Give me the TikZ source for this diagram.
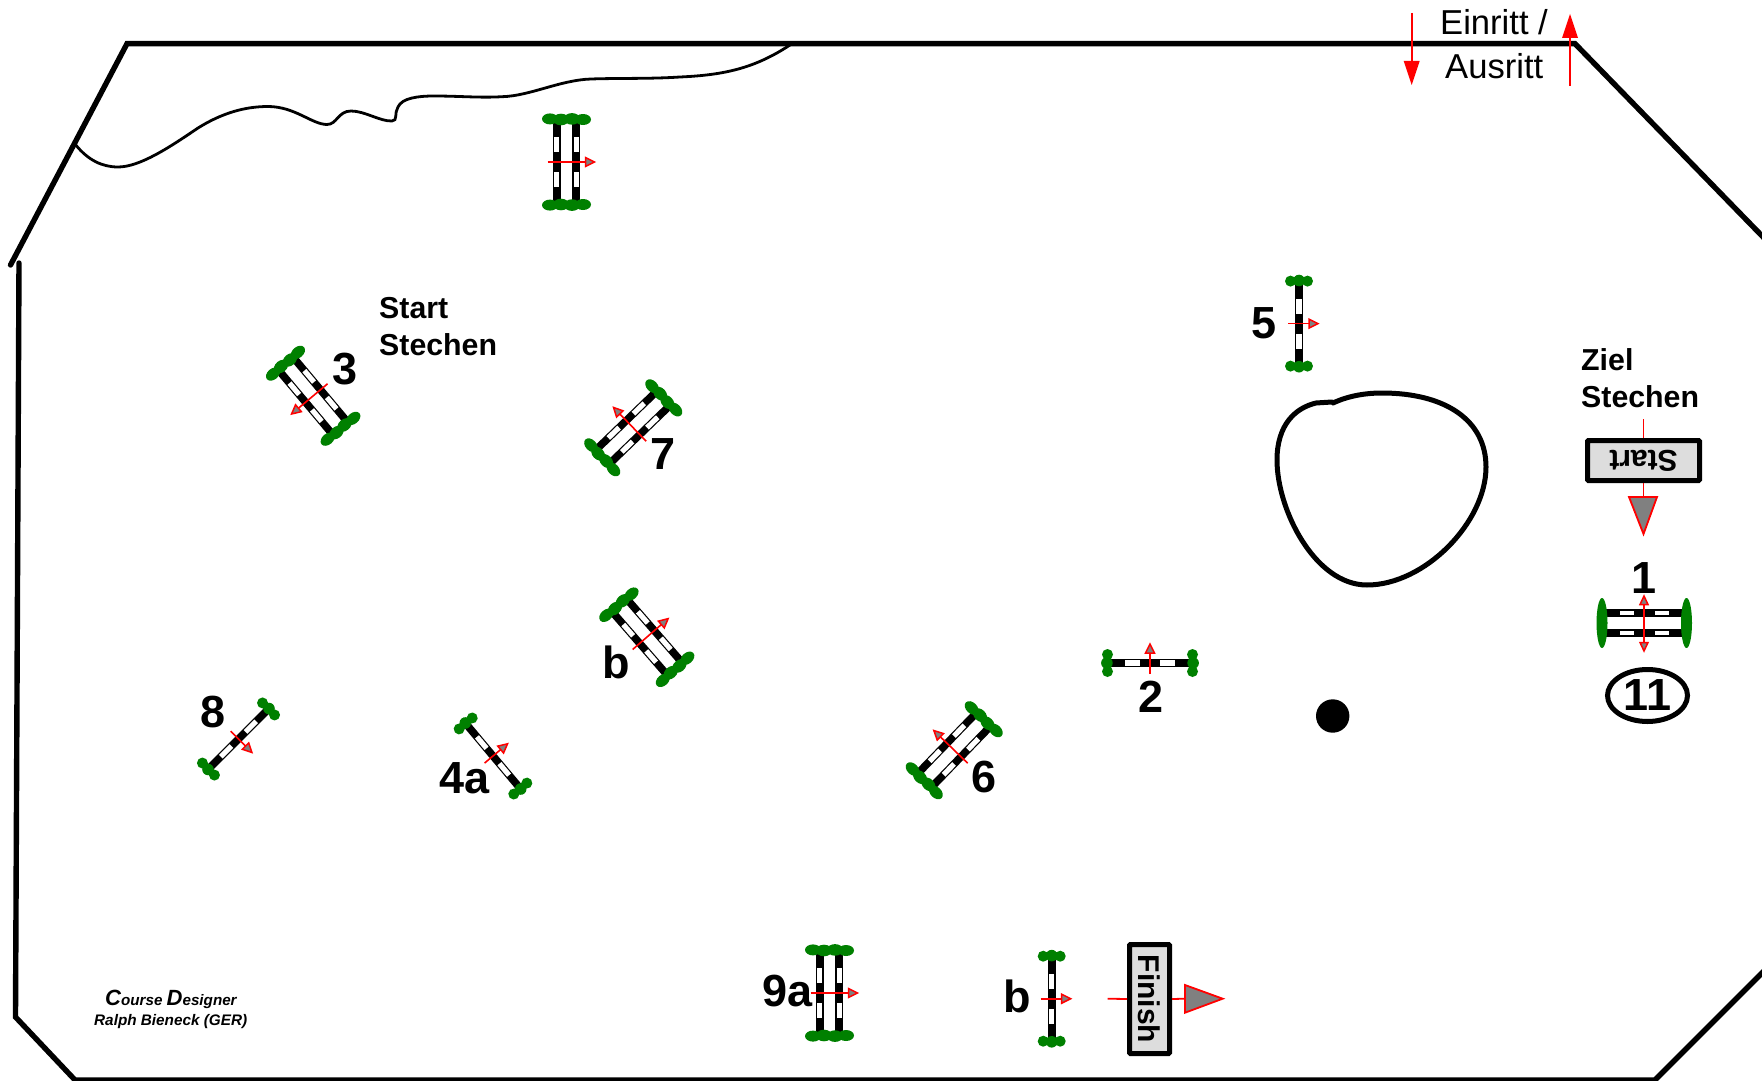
\documentclass[tikz,border=0pt]{standalone}
\usepackage{fontspec}
\usetikzlibrary{shapes.geometric}
\setmainfont{Liberation Sans}
\definecolor{wing}{HTML}{008000}
\definecolor{boxgray}{HTML}{DDDDDD}
\definecolor{headgray}{HTML}{808080}
\tikzset{
  outline/.style={line width=5.4pt,line join=miter,line cap=round},
  redline/.style={draw=red,line width=1.8pt},
  fencered/.style={draw=red,line width=1.6pt},
  smallhead/.style={draw=red,fill=headgray,line width=1.5pt,line join=miter},
  bighead/.style={draw=red,fill=headgray,line width=1.8pt,line join=miter},
  numlabel/.style={font=\bfseries\fontsize{45}{45}\selectfont,inner sep=0pt,anchor=center},
  notelabel/.style={font=\bfseries\fontsize{30.3}{37}\selectfont,inner sep=0pt,align=left,anchor=west},
  gatelabel/.style={font=\fontsize{34.6}{34.6}\selectfont,inner sep=0pt,anchor=base west},
  gatebox/.style={draw=black,fill=boxgray,line width=5pt,rounded corners=1pt,inner sep=0pt,
     font=\bfseries\fontsize{30}{30}\selectfont},
}
\newcommand\railbar[1]{%
  \fill[black] (-39,#1-3.8) rectangle (39,#1+3.8);
  \fill[white] (-25,#1-2.6) rectangle (-10,#1+2.6);
  \fill[white] (10,#1-2.6) rectangle (25,#1+2.6);}
\newcommand\singlejump[3]{%
  \begin{scope}[shift={(#1,#2)},rotate=#3]
    \railbar{0}
    \foreach \wx/\wz in {-42.5/-0.6,42.5/0.6}{
      \fill[wing] (\wx,-8.5) circle (5.5) (\wx+\wz,0) circle (5.8) (\wx,8.5) circle (5.5);}
    \draw[fencered] (0,11) -- (0,-11);
    \filldraw[smallhead] (0,-19) -- (-4.5,-10) -- (4.5,-10) -- cycle;
  \end{scope}}
\newcommand\oxerjump[3]{%
  \begin{scope}[shift={(#1,#2)},rotate=#3]
    \railbar{-9.7}
    \railbar{9.7}
    \foreach \wx/\wz in {-42.5/-0.6,42.5/0.6}{
      \fill[wing] (\wx,-16.5) ellipse (5.5 and 8) (\wx+\wz,-5.5) ellipse (5.8 and 8)
                  (\wx,5.5) ellipse (5.8 and 8) (\wx+\wz,16.5) ellipse (5.5 and 8);}
    \draw[fencered] (0,19) -- (0,-20);
    \filldraw[smallhead] (0,-28) -- (-4.5,-19) -- (4.5,-19) -- cycle;
  \end{scope}}
\begin{document}
\begin{tikzpicture}[x=1pt,y=-1pt]
\useasboundingbox (0,0) rectangle (1762,1081);
\clip (0,0) rectangle (1762,1081);

% arena
\draw[outline] (10.5,265) -- (127,43.7) -- (1575,43.7) -- (1765,239);
\draw[outline] (19,263) -- (15.5,1017) -- (75,1080) -- (1655,1080) -- (1765,970);
\draw[line width=2.8pt,line cap=round] (75.8,145)
 .. controls (88,160) and (102,167) .. (118,167)
 .. controls (140,167) and (170,147) .. (198,128)
 .. controls (222,113) and (245,106.5) .. (268,106.5)
 .. controls (295,106.5) and (312,124.5) .. (327,124.5)
 .. controls (337,124.5) and (338,111) .. (351,111)
 .. controls (365,111) and (380,121.5) .. (392,121)
 .. controls (398,121) and (394,113) .. (398,107)
 .. controls (402,98) and (418,96) .. (434,96)
 .. controls (460,96) and (480,98) .. (502,96.7)
 .. controls (530,96) and (560,80) .. (591,79)
 .. controls (620,78) and (650,79) .. (680,77)
 .. controls (725,75) and (755,68) .. (790,45);
% pond
\draw[line width=5pt,line cap=round] (1333,403)
 .. controls (1348,396) and (1365,393) .. (1382,393)
 .. controls (1445,393) and (1486,420) .. (1486,467)
 .. controls (1486,522) and (1425,585) .. (1367,585)
 .. controls (1315,585) and (1277,510) .. (1277,460)
 .. controls (1277,425) and (1295,408) .. (1316,403) -- (1332,402);
\fill[black] (1332.7,716) circle (16.7);

% gate arrows
\coordinate (gateinA) at (1411.7,13);
\coordinate (gateinB) at (1411.7,62);
\coordinate (gateoutA) at (1570,86);
\coordinate (gateoutB) at (1570,38);
\draw[redline] (gateinA) -- (gateinB);
\fill[red] (1411.7,85) -- (1403.7,61) -- (1419.7,61) -- cycle;
\draw[redline] (gateoutA) -- (gateoutB);
\fill[red] (1570,14) -- (1562,38) -- (1578,38) -- cycle;
\node[gatelabel] (einritt) at (1440,35) {Einritt /};
\node[gatelabel] (ausritt) at (1445,78) {Ausritt};

% fences
\oxerjump{566.5}{162}{-90}
\oxerjump{313}{396}{130}
\oxerjump{633}{427.6}{44}
\oxerjump{647}{637}{-49}
\singlejump{238.5}{739}{-135}
\singlejump{493}{756}{-50}
\oxerjump{954}{750}{46}
\singlejump{1150}{663}{0}
\singlejump{1299}{323.6}{-90}
\oxerjump{829.5}{993}{-90}
\singlejump{1051.7}{998.7}{-90}
% fence 1 (two-way)
\fill[black] (1606,609.3) rectangle (1682,616.7);
\fill[black] (1606,629.3) rectangle (1682,636.7);
\fill[white] (1620,610.8) rectangle (1634,615.2);
\fill[white] (1655,610.8) rectangle (1669,615.2);
\fill[white] (1620,630.8) rectangle (1634,635.2);
\fill[white] (1655,630.8) rectangle (1669,635.2);
\fill[wing] (1602,623) ellipse (5.5 and 25);
\fill[wing] (1686.5,623) ellipse (5.5 and 25);
\draw[fencered] (1644,604) -- (1644,644);
\filldraw[smallhead] (1644,596) -- (1640,604.5) -- (1648,604.5) -- cycle;
\filldraw[smallhead] (1644,651) -- (1640,642.5) -- (1648,642.5) -- cycle;

% start and finish
\coordinate (startin) at (1643.5,419);
\coordinate (finishin) at (1107.7,998.7);
\node[gatebox,rotate=180,minimum width=112pt,minimum height=40pt] (startbox) at (1643.5,460.5) {Start};
\draw[redline] (startin) -- (startbox.south);
\coordinate (starttri) at (1643.5,497);
\draw[redline] (startbox.north) -- (starttri);
\filldraw[bighead] (1629,497) -- (1657,497) -- (1643.5,534) -- cycle;
\node[gatebox,rotate=-90,minimum width=109pt,minimum height=40pt] (finishbox) at (1149.5,999) {Finish};
\draw[redline] (finishin) -- (finishbox.south);
\coordinate (finishtri) at (1185,998.7);
\draw[redline] (finishbox.north) -- (finishtri);
\filldraw[bighead] (1185,985) -- (1185,1012.7) -- (1222.7,998.7) -- cycle;

% numbers
\node[numlabel] (n3) at (345,369) {3};
\node[numlabel] (n7) at (663,454) {7};
\node[numlabel] (nb) at (616.5,662) {b};
\node[numlabel] (n8) at (213,712) {8};
\node[numlabel] (n4a) at (464.5,778) {4a};
\node[numlabel] (n6) at (984,777) {6};
\node[numlabel] (n2) at (1151,697) {2};
\node[numlabel] (n5) at (1264,323.6) {5};
\node[numlabel] (n9a) at (787.5,991) {9a};
\node[numlabel] (nbb) at (1017,996) {b};
\node[numlabel] (n1) at (1644,578) {1};
\node[numlabel,draw=black,line width=5pt,ellipse,minimum width=80pt,minimum height=52pt] (n11) at (1647.5,695.5) {11};

% notes
\node[notelabel] (startstechen) at (379,326.5) {Start\\Stechen};
\node[notelabel] (zielstechen) at (1581,378) {Ziel\\Stechen};

% credit
\node[inner sep=0pt,anchor=base west,font=\bfseries\itshape\fontsize{15.2}{15.2}\selectfont] (designer) at (105,1005) {{\fontsize{22}{22}\selectfont C}ourse {\fontsize{22}{22}\selectfont D}esigner};
\node[inner sep=0pt,anchor=base west,font=\bfseries\itshape\fontsize{15.3}{15.3}\selectfont] (ralph) at (94,1025) {Ralph Bieneck (GER)};
\end{tikzpicture}
\end{document}
